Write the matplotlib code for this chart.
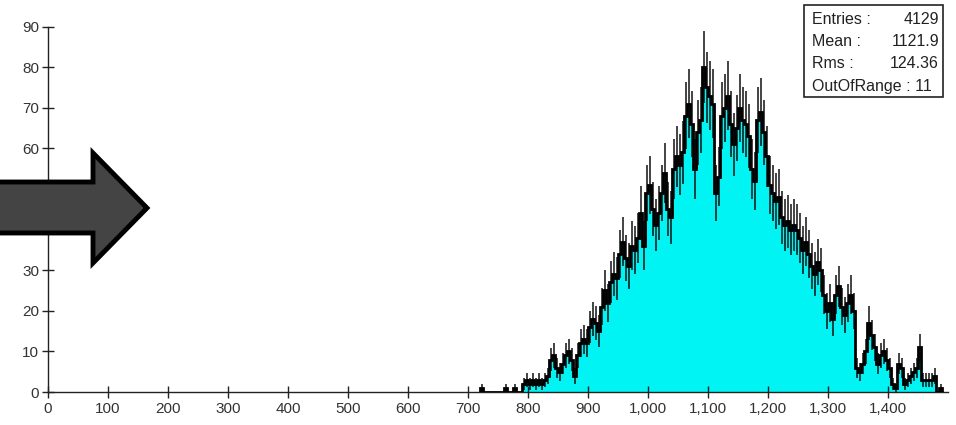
import numpy as np
import matplotlib
matplotlib.use('Agg')
import matplotlib.pyplot as plt
from matplotlib.patches import Polygon, Rectangle
from matplotlib.ticker import FuncFormatter

plt.rcParams['font.family'] = ['Liberation Sans', 'DejaVu Sans']

# histogram: first bin edge, bin width, counts per bin
bin_start = 720
bin_width = 5
counts = [1, 0, 0, 0, 0, 0, 0, 0, 1, 0, 0, 1, 0, 0,           # 720-785
          2, 3, 2, 3, 2, 3, 2, 3,                               # 790-825
          4, 8, 9, 6, 5, 7, 9, 10, 8, 4, 9, 12, 13, 12,         # 830-895
          16, 18, 17, 15, 21, 25, 22, 27, 29, 28,               # 900-945
          34, 37, 33, 31, 36, 35, 38, 44, 36, 49,               # 950-995
          51, 45, 41, 44, 49, 54, 45, 43, 55, 58,               # 1000-1045
          56, 59, 68, 71, 66, 55, 64, 67, 80, 75,               # 1050-1095
          73, 71, 49, 53, 68, 70, 73, 66, 61, 65,               # 1100-1145
          70, 67, 66, 63, 55, 52, 67, 69, 64, 58,               # 1150-1195
          51, 49, 47, 48, 43, 41, 42, 40, 41, 40,               # 1200-1245
          38, 35, 37, 34, 31, 29, 32, 30, 24, 20,               # 1250-1295
          22, 18, 24, 26, 21, 19, 22, 24, 20, 6,                # 1300-1345
          5, 7, 10, 17, 14, 11, 7, 9, 10, 8,                    # 1350-1395
          6, 2, 1, 7, 6, 2, 3, 4, 5, 6,                         # 1400-1445
          11, 3, 3, 3, 3, 4, 0, 1]                              # 1450-1485

stats_labels = ['Entries :', 'Mean :', 'Rms :', 'OutOfRange : 11']
stats_values = ['4129', '1121.9', '124.36', '']

x_ticks = [0, 100, 200, 300, 400, 500, 600, 700, 800, 900,
           1000, 1100, 1200, 1300, 1400]
y_ticks = [0, 10, 20, 30, 40, 50, 60, 70, 80, 90]

counts = np.array(counts, dtype=float)
edges = bin_start + bin_width * np.arange(len(counts) + 1)
centers = edges[:-1] + bin_width / 2.0

W, H = 956, 425
fig = plt.figure(figsize=(W / 100.0, H / 100.0), dpi=100)
ax = fig.add_axes([48.0 / W, 33.0 / H, 900.0 / W, 365.5 / H])

ax.bar(edges[:-1], counts, width=bin_width, align='edge',
       color='#00f4f4', edgecolor='none', zorder=1)
ax.stairs(counts, edges, color='black', lw=2.0, zorder=3)
err = np.sqrt(counts)
m = counts > 0
ax.vlines(centers[m], counts[m] - err[m], counts[m] + err[m],
          color='#111111', lw=1.1, zorder=2)

ax.set_xlim(0, 1500)
ax.set_ylim(0, 90)
ax.set_xticks(x_ticks)
ax.set_yticks(y_ticks)
ax.xaxis.set_major_formatter(FuncFormatter(lambda v, p: '{:,}'.format(int(v))))
for s in ['top', 'right']:
    ax.spines[s].set_visible(False)
for s in ['left', 'bottom']:
    ax.spines[s].set_linewidth(1.0)
    ax.spines[s].set_color('#222222')
ax.tick_params(axis='both', direction='inout', length=9, width=1.0,
               color='#222222', labelsize=11, labelcolor='#333333')
ax.tick_params(axis='x', pad=3)
ax.tick_params(axis='y', pad=2)

# stats box (pixel geometry -> figure fraction)
def fx(px):
    return px / float(W)

def fy(py):
    return (H - py) / float(H)

fig.add_artist(Rectangle((fx(804), fy(97)), fx(943) - fx(804), fy(5) - fy(97),
                         transform=fig.transFigure, facecolor='white',
                         edgecolor='#222222', lw=1.2, zorder=5))
for i, (lab, val) in enumerate(zip(stats_labels, stats_values)):
    yy = fy(20 + 22 * i)
    fig.text(fx(812), yy, lab, ha='left', va='center', fontsize=11.5,
             color='#222222', zorder=6)
    if val:
        fig.text(fx(939), yy, val, ha='right', va='center', fontsize=11.5,
                 color='#222222', zorder=6)

# big arrow over the y axis
arrow_px = [(-6, 182), (93, 182), (93, 153), (147, 208),
            (93, 263), (93, 233), (-6, 233)]
fig.add_artist(Polygon([(fx(a), fy(b)) for a, b in arrow_px], closed=True,
                       transform=fig.transFigure, facecolor='#444444',
                       edgecolor='black', lw=3.5, joinstyle='miter', zorder=10))

fig.savefig('out.png', dpi=100)
